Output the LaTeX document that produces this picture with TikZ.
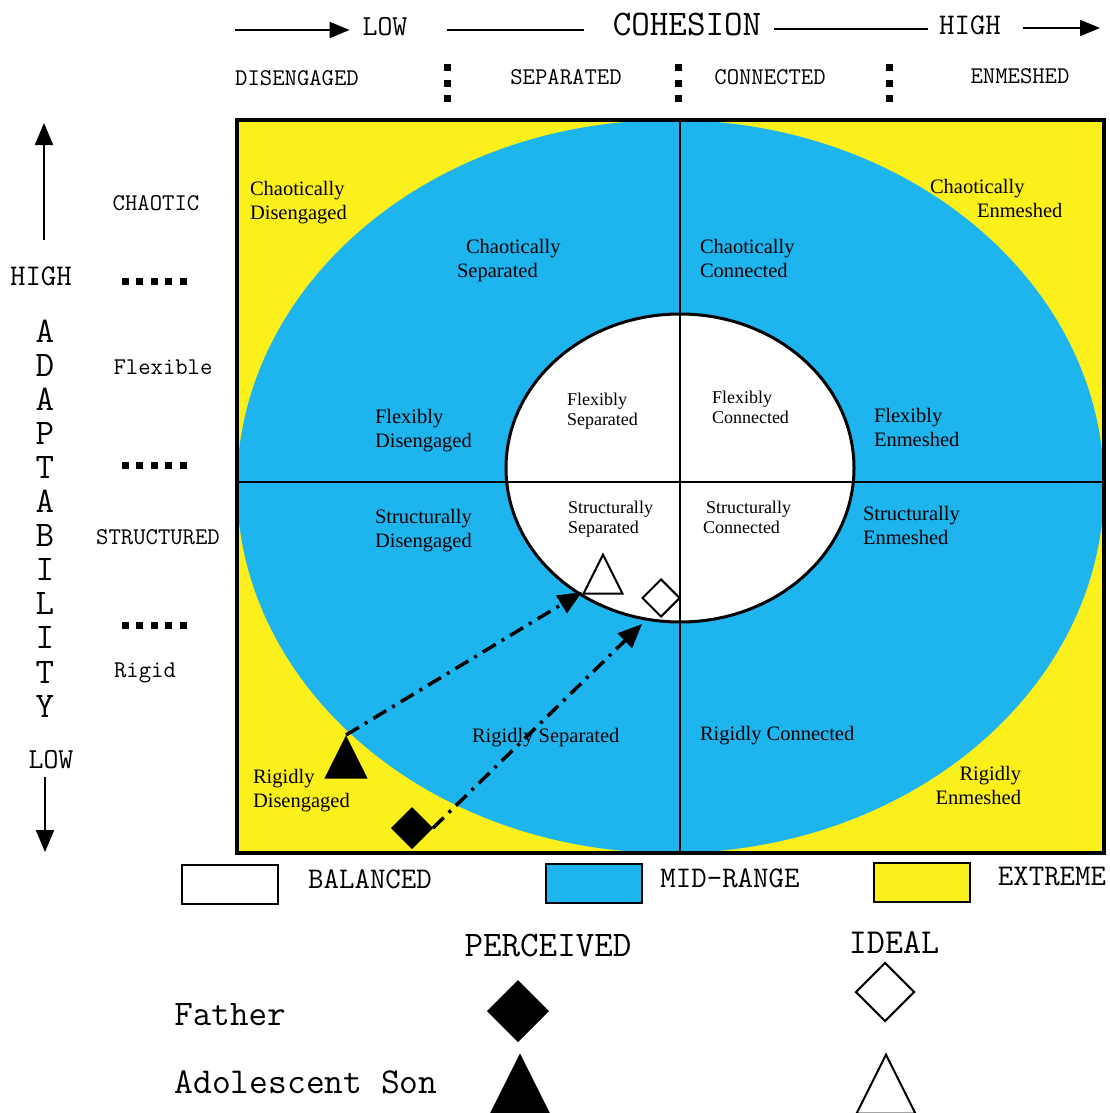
\documentclass[tikz,border=0pt]{standalone}
\usepackage{fontspec}
\setmainfont{Liberation Serif}
\usetikzlibrary{arrows.meta,shapes.geometric}
\definecolor{midblue}{RGB}{30,180,238}
\definecolor{extyellow}{RGB}{252,240,28}
\tikzset{zone/.style={inner sep=0pt, anchor=north west, align=left,
  font=\fontsize{20.5}{24.5}\selectfont},
  core/.style={inner sep=0pt, anchor=north west, align=left,
  font=\fontsize{18}{20.5}\selectfont},
  mono/.style={inner sep=0pt, font=\ttfamily\fontsize{#1}{#1}\selectfont},
  key/.style={draw, minimum width=96pt, minimum height=39pt, inner sep=0pt},
  dia/.style={diamond, draw, inner sep=0pt, minimum width=#1,
  minimum height=#1},
  tri/.style={isosceles triangle, isosceles triangle stretches,
  shape border rotate=90, draw, inner sep=0pt, anchor=apex,
  minimum width=#1, minimum height=#1},
  flow/.style={line width=3.5pt, dash pattern=on 15pt off 7pt on 3pt off 7pt,
  -{Triangle[length=24pt, width=20pt]}}}

\begin{document}
\begin{tikzpicture}[x=1pt, y=-1pt, line width=2pt,
  >={Triangle[length=20pt, width=16pt]}]
  \useasboundingbox (0,0) rectangle (1109,1113);
  \fill[extyellow] (237,120) rectangle (1104,853);
  \fill[midblue] (670.5,486.5) ellipse [x radius=433.5, y radius=366.5];
  \filldraw[fill=white, line width=3pt] (680,468)
    ellipse [x radius=174, y radius=154];
  \draw (680,120) -- (680,853);
  \draw (237,482) -- (1104,482);
  \draw[line width=4pt] (237,120) rectangle (1104,853);

  \node[mono=29] (low)      at (385,27) {LOW};
  \node[mono=36] (cohesion) at (687,25) {COHESION};
  \node[mono=30] (high)     at (970,25) {HIGH};
  \coordinate (ltail) at (235,30);
  \coordinate (rhead) at (1100,28);
  \draw[->] (ltail) -- ([shift={(-12,3)}]low.west);
  \draw ([shift={(39,3)}]low.east) -- ([shift={(-28,5)}]cohesion.west);
  \draw ([shift={(12,4)}]cohesion.east) -- ([shift={(-10,4)}]high.west);
  \draw[->] ([shift={(21,3)}]high.east) -- (rhead);

  \node[mono=24] (dis) at (297,78)  {DISENGAGED};
  \node[mono=24] (sep) at (566,77)  {SEPARATED};
  \node[mono=24] (con) at (770,77)  {CONNECTED};
  \node[mono=24] (enm) at (1020,76) {ENMESHED};
  \foreach \x in {447,678,889}
    \foreach \y in {68,84,99}
      \fill (\x-3.5,\y-3.5) rectangle ++(7,7);

  \node[mono=30] (ahigh) at (41,276) {HIGH};
  \node[mono=29] (alow)  at (51,760) {LOW};
  \coordinate (up0) at (44,240);
  \coordinate (up1) at (44,123);
  \coordinate (dn0) at (45,777);
  \coordinate (dn1) at (45,852);
  \draw[->, >={Triangle[length=22pt, width=18pt]}] (up0) -- (up1);
  \draw[->, >={Triangle[length=22pt, width=18pt]}] (dn0) -- (dn1);
  \foreach \c [count=\i from 0] in {A,D,A,P,T,A,B,I,L,I,T,Y}
    \node[mono=36] (ad\i) at (45,{331+34.1*\i}) {\c};

  \node[mono=24] (chaotic)    at (156,203) {CHAOTIC};
  \node[mono=24] (flexible)   at (163,367) {Flexible};
  \node[mono=24] (structured) at (158,537) {STRUCTURED};
  \node[mono=24] (rigid)      at (145,673) {Rigid};
  \foreach \y in {281,465,625}
    \foreach \x in {125,139.5,154,168.5,183}
      \fill (\x-3.5,\y-3.5) rectangle ++(7,7);

  \node[zone] (cdis) at (249,180) {Chaotically\\Disengaged};
  \node[zone] (csep) at (456,238) {\hspace*{9pt}Chaotically\\Separated};
  \node[zone] (ccon) at (699,238) {Chaotically\\Connected};
  \node[zone] (cenm) at (929,178) {Chaotically\\\hspace*{47pt}Enmeshed};
  \node[zone] (fdis) at (374,408) {Flexibly\\Disengaged};
  \node[zone] (fenm) at (873,407) {Flexibly\\Enmeshed};
  \node[zone] (sdis) at (374,508) {Structurally\\Disengaged};
  \node[zone] (senm) at (862,505) {Structurally\\Enmeshed};
  \node[zone] (rdis) at (252,768) {Rigidly\\Disengaged};
  \node[zone, anchor=north east, align=right] (renm) at (1022,765)
    {Rigidly\\Enmeshed};
  \node[zone] (rsep) at (471,727) {Rigidly Separated};
  \node[zone] (rcon) at (699,725) {Rigidly Connected};
  \node[core] (fsep) at (566,392) {Flexibly\\Separated};
  \node[core] (fcon) at (711,390) {Flexibly\\Connected};
  \node[core] (ssep) at (567,500) {Structurally\\Separated};
  \node[core] (scon) at (702,500) {\hspace*{3pt}Structurally\\Connected};

  \node[tri=40pt, fill=black] (sonP) at (346,735) {};
  \node[tri=39pt, fill=white] (sonI) at (603,552) {};
  \node[dia=40pt, fill=black] (fatP) at (412,828) {};
  \node[dia=38pt, fill=white] (fatI) at (661,598) {};
  \coordinate (sonTip) at (582,592);
  \coordinate (fatTip) at (642,624);
  \draw[flow] (sonP.apex) -- (sonTip);
  \draw[flow] (fatP.east) -- (fatTip);

  \node[key, fill=white]     (kbal) at (230,884.5) {};
  \node[key, fill=midblue]   (kmid) at (594,883)   {};
  \node[key, fill=extyellow] (kext) at (922,882)   {};
  \node[mono=30] (lbal) at (370,879)  {BALANCED};
  \node[mono=30] (lmid) at (730,878)  {MID-RANGE};
  \node[mono=30] (lext) at (1052,877) {EXTREME};

  \node[mono=36]   (perc)   at (548,945)  {PERCEIVED};
  \node[mono=35]   (ideal)  at (894,943)  {IDEAL};
  \node[mono=36]   (father) at (230,1015) {Father};
  \node[mono=36.5] (son)    at (306,1082) {Adolescent Son};
  \node[dia=60pt, fill=black] (fatPk) at (518,1011) {};
  \node[dia=59pt, fill=white] (fatIk) at (885,992)  {};
  \node[tri=60pt, fill=black] (sonPk) at (520,1053) {};
  \node[tri=59pt, fill=white] (sonIk) at (886,1052) {};
\end{tikzpicture}
\end{document}
